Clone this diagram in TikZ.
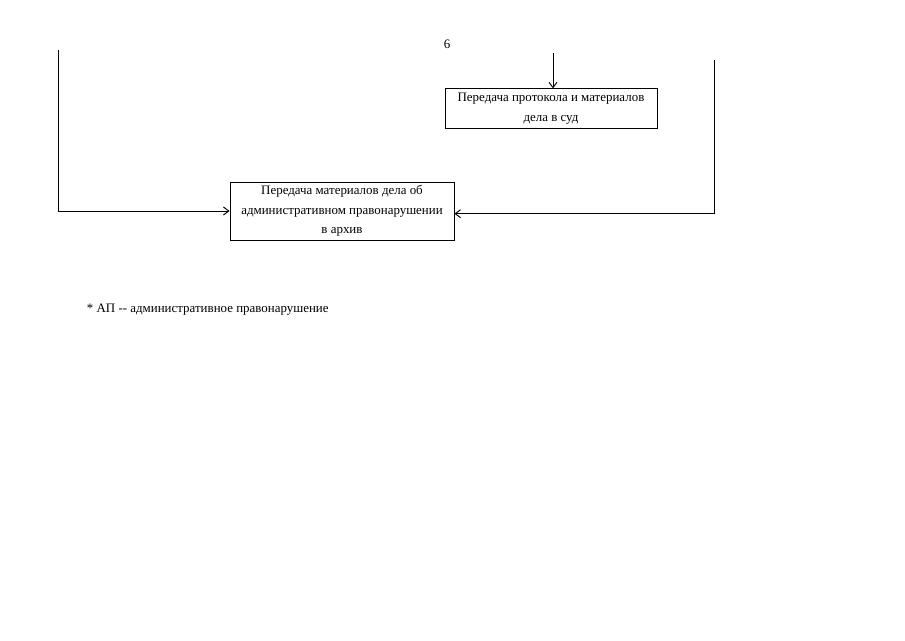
\documentclass[tikz,border=0pt]{standalone}
\usepackage{fontspec}
\setmainfont{Liberation Serif}
\usetikzlibrary{arrows.meta,positioning}

\begin{document}
\begin{tikzpicture}[x=0.75pt,y=-0.75pt,
  font=\fontsize{9.7}{14.6}\selectfont,
  line width=0.7pt,
  stepbox/.style={draw,rectangle,align=center,inner sep=0pt},
  arr/.style={-{Straight Barb[length=4pt,width=6pt]}},
]
  \useasboundingbox (0,0) rectangle (905,640);

  \node (pg) at (447,44) {6};

  \node[stepbox,minimum width=159pt,minimum height=29.5pt] (court) at (551,108.5)
    {Передача протокола и материалов\\дела в суд};
  \node[stepbox,minimum width=168pt,minimum height=43.5pt] (arch) at (342,211)
    {Передача материалов дела об\\административном правонарушении\\в архив};

  \coordinate (top) at (553,53);
  \coordinate (lstart) at (58,50);
  \coordinate (rstart) at (714,60);

  \draw[arr] (top) -- (top |- court.north);
  \draw[arr] (lstart) |- (arch.west);
  \draw[arr] (rstart) |- ([yshift=-2pt]arch.east);

  \node[anchor=west] (note) at (82,310) {* АП -{}- административное правонарушение};
\end{tikzpicture}
\end{document}
